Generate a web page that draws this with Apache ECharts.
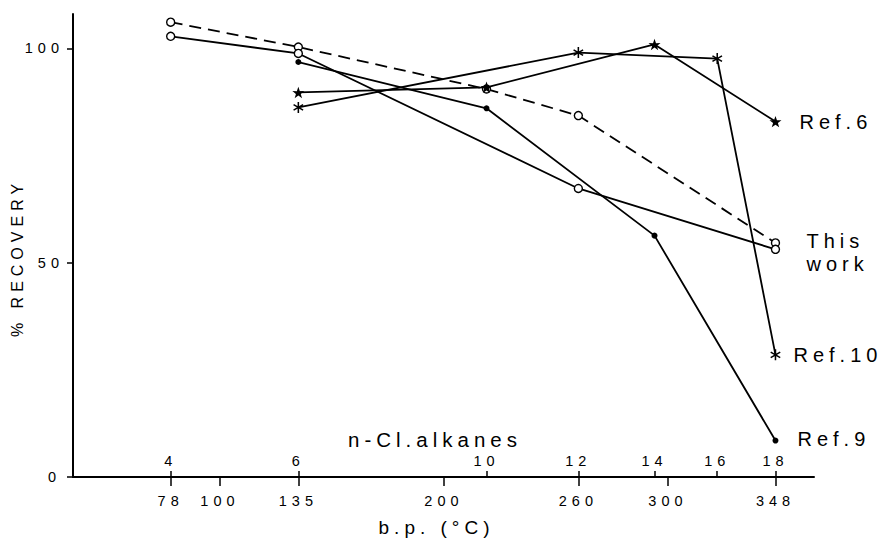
<!DOCTYPE html>
<html>
<head>
<meta charset="utf-8">
<script src="https://cdn.jsdelivr.net/npm/echarts@6/dist/echarts.min.js"></script>
<style>
  html, body { margin: 0; padding: 0; background: #fff; }
  #chart { width: 884px; height: 542px; letter-spacing: 5px; }
</style>
</head>
<body>
<div id="chart"></div>
<script>
// n-chloroalkanes: carbon number and b.p. (°C) where it sits on the axis
const carbonNumbers = [4, 6, 10, 12, 14, 16, 18];
const boilingPoints = [78, 135, 219, 260, 294, 322, 348];
const bpTicks = [78, 100, 135, 200, 260, 300, 348];
const recoveryTicks = [0, 50, 100];

// % recovery, by carbon number
const thisWorkDashedC = [4, 6, 10, 12, 18];
const thisWorkDashed = [106.1, 100.3, 90.5, 84.3, 54.6];
const thisWorkSolidC = [4, 6, 12, 18];
const thisWorkSolid = [102.8, 98.8, 67.3, 53.1];
const ref9C = [6, 10, 14, 18];
const ref9 = [96.8, 86.0, 56.3, 8.5];
const ref6C = [6, 10, 14, 18];
const ref6 = [89.7, 90.9, 100.9, 82.9];
const ref10C = [6, 12, 16, 18];
const ref10 = [86.2, 99.0, 97.6, 28.5];

const FONT = 'Liberation Sans';
const STAR = 'path://M50 0 L61.8 35.1 L97.6 34.5 L69 56.7 L79.4 90.5 L50 70 L20.6 90.5 L31 56.7 L2.4 34.5 L38.2 35.1 Z';
const ASTERISK = 'path://M43 0 L57 0 L57 100 L43 100 Z ' +
  'M10.2 81.06 L3.2 68.94 L89.8 18.94 L96.8 31.06 Z ' +
  'M96.8 68.94 L89.8 81.06 L3.2 31.06 L10.2 18.94 Z';

function pairs(cs, vals) {
  return cs.map((c, i) => [boilingPoints[carbonNumbers.indexOf(c)], vals[i]]);
}

function endLabel(text, distance, extra) {
  return Object.assign({
    show: true,
    formatter: text,
    distance: distance,
    color: '#000',
    fontFamily: FONT,
    fontSize: 20
  }, extra || {});
}

const chart = echarts.init(document.getElementById('chart'), null, { renderer: 'svg' });

const option = {
  animation: false,
  backgroundColor: '#fff',
  grid: { left: 73, right: 70, top: 14, bottom: 62 },
  xAxis: [
    {
      type: 'value',
      min: 34.4,
      max: 365.2,
      name: 'b.p. (°C)',
      nameLocation: 'middle',
      nameGap: 41,
      nameTextStyle: { color: '#000', fontFamily: FONT, fontSize: 19, padding: [0, 14, 0, 0] },
      axisLine: { show: true, onZero: false, lineStyle: { color: '#000', width: 2 } },
      axisTick: { show: true, length: 9, customValues: bpTicks, lineStyle: { color: '#000', width: 1.5 } },
      axisLabel: { customValues: bpTicks, margin: 16, color: '#000', fontFamily: FONT, fontSize: 14.5 },
      splitLine: { show: false }
    },
    {
      type: 'value',
      position: 'bottom',
      min: 34.4,
      max: 365.2,
      axisLine: { show: false },
      axisTick: { show: true, inside: true, length: 6, customValues: boilingPoints, lineStyle: { color: '#000', width: 1.5 } },
      axisLabel: {
        inside: true,
        margin: 9,
        customValues: boilingPoints,
        formatter: v => String(carbonNumbers[boilingPoints.indexOf(v)]),
        color: '#000', fontFamily: FONT, fontSize: 14.5
      },
      splitLine: { show: false }
    }
  ],
  yAxis: {
    type: 'value',
    min: 0,
    max: 108,
    name: '% RECOVERY',
    nameLocation: 'middle',
    nameGap: 48,
    nameTextStyle: { color: '#000', fontFamily: FONT, fontSize: 16, padding: [0, 25, 0, 0] },
    axisLine: { show: true, lineStyle: { color: '#000', width: 2 } },
    axisTick: { show: true, length: 6, customValues: recoveryTicks, lineStyle: { color: '#000', width: 1.5 } },
    axisLabel: {
      customValues: recoveryTicks,
      margin: 9,
      formatter: v => v === 0 ? '{zero|0}' : String(v),
      rich: { zero: { padding: [0, 3, 0, 0], fontFamily: FONT, fontSize: 14.5, color: '#000' } },
      color: '#000', fontFamily: FONT, fontSize: 14.5
    },
    splitLine: { show: false }
  },
  graphic: [
    {
      type: 'text',
      left: 348,
      top: 429,
      style: { text: 'n-Cl.alkanes', fill: '#000', font: '20.5px "Liberation Sans"' }
    }
  ],
  series: [
    {
      type: 'line',
      data: pairs(thisWorkDashedC, thisWorkDashed),
      symbol: 'circle',
      symbolSize: 8,
      showAllSymbol: true,
      lineStyle: { color: '#000', width: 1.8, type: [12, 7] },
      itemStyle: { color: '#fff', borderColor: '#000', borderWidth: 1.4 },
      z: 3
    },
    {
      type: 'line',
      data: pairs(thisWorkSolidC, thisWorkSolid),
      symbol: 'circle',
      symbolSize: 8,
      lineStyle: { color: '#000', width: 1.8 },
      itemStyle: { color: '#fff', borderColor: '#000', borderWidth: 1.4 },
      endLabel: endLabel('This\nwork', 31, { lineHeight: 23, offset: [0, 3] }),
      z: 3
    },
    {
      type: 'line',
      data: pairs(ref9C, ref9),
      symbol: 'circle',
      symbolSize: 6,
      lineStyle: { color: '#000', width: 1.8 },
      itemStyle: { color: '#000' },
      endLabel: endLabel('Ref.9', 22, { offset: [0, -2] })
    },
    {
      type: 'line',
      data: pairs(ref6C, ref6),
      symbol: STAR,
      symbolSize: 12,
      symbolKeepAspect: true,
      lineStyle: { color: '#000', width: 1.8 },
      itemStyle: { color: '#000' },
      endLabel: endLabel('Ref.6', 24)
    },
    {
      type: 'line',
      data: pairs(ref10C, ref10),
      symbol: ASTERISK,
      symbolSize: 11,
      symbolKeepAspect: true,
      lineStyle: { color: '#000', width: 1.8 },
      itemStyle: { color: '#000' },
      endLabel: endLabel('Ref.10', 18)
    }
  ]
};

chart.setOption(option);
</script>
</body>
</html>
